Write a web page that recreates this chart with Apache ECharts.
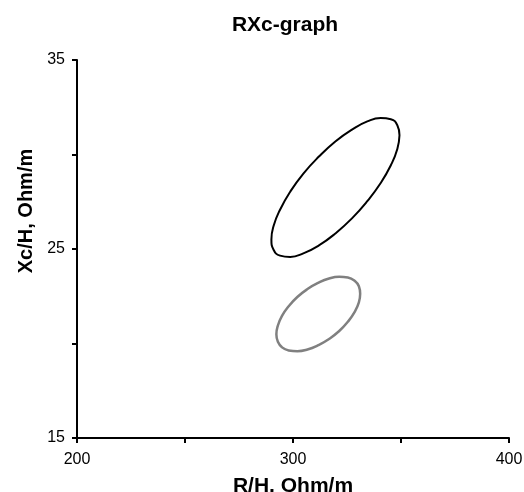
<!DOCTYPE html>
<html style="height: 100%">

<head>
  <meta charset="utf-8">
  <script type="text/javascript" src="https://cdn.jsdelivr.net/npm/echarts@6/dist/echarts.min.js"></script>
</head>

<body style="height: 100%; margin: 0; background: #fff">
  <div id="container" style="width: 524px; height: 492px"></div>
  <script type="text/javascript">
    // outer (black) ellipse, traced from its right end, over the top and round
    var blackR = [349.3, 348.3, 345.3, 340.6, 334.4, 327.3, 319.6, 312.0, 304.8, 298.7, 294.0, 291.0, 290.0,
                  291.0, 294.0, 298.7, 304.8, 312.0, 319.6, 327.3, 334.4, 340.6, 345.3, 348.3, 349.3];
    var blackX = [31.02, 31.55, 31.87, 31.93, 31.75, 31.32, 30.69, 29.89, 28.99, 28.03, 27.08, 26.22, 25.50,
                  24.96, 24.65, 24.58, 24.77, 25.19, 25.82, 26.62, 27.53, 28.49, 29.43, 30.29, 31.02];

    // inner (grey) ellipse
    var grayR = [331.1, 330.5, 328.5, 325.4, 321.4, 316.7, 311.7, 306.7, 302.0, 298.0, 294.9, 293.0, 292.3,
                 293.0, 294.9, 298.0, 302.0, 306.7, 311.7, 316.7, 321.4, 325.4, 328.5, 330.5, 331.1];
    var grayX = [22.63, 23.03, 23.32, 23.49, 23.53, 23.44, 23.21, 22.88, 22.46, 21.97, 21.46, 20.95, 20.49,
                 20.09, 19.80, 19.63, 19.59, 19.68, 19.91, 20.24, 20.66, 21.15, 21.66, 22.17, 22.63];

    var xLabels = [200, 300, 400];
    var yLabels = [15, 25, 35];

    function pairs(xs, ys) {
      return xs.map(function(x, i) { return [x, ys[i]]; });
    }

    var dom = document.getElementById("container");
    var myChart = echarts.init(dom);

    var font = 'Arial, "Liberation Sans", sans-serif';

    option = {
      animation: false,
      title: {
        text: 'RXc-graph',
        left: 280,
        top: 10,
        textAlign: 'center',
        textStyle: {
          fontFamily: font,
          fontSize: 21,
          fontWeight: 'bold',
          color: '#000'
        }
      },
      grid: {
        left: 77,
        right: 15,
        top: 60,
        bottom: 54,
        outerBoundsMode: 'none'
      },
      xAxis: {
        type: 'value',
        min: 200,
        max: 400,
        interval: 50,
        name: 'R/H, Ohm/m',
        nameLocation: 'middle',
        nameGap: 38,
        nameTextStyle: {
          fontFamily: font,
          fontSize: 21,
          fontWeight: 'bold',
          color: '#000'
        },
        splitLine: { show: false },
        axisLine: { lineStyle: { color: '#000', width: 2 } },
        axisTick: { length: 5, lineStyle: { color: '#000', width: 2 } },
        axisLabel: {
          margin: 14,
          fontFamily: font,
          fontSize: 16,
          color: '#000',
          formatter: function(v) { return xLabels.indexOf(v) >= 0 ? String(v) : ''; }
        }
      },
      yAxis: {
        type: 'value',
        min: 15,
        max: 35,
        interval: 5,
        splitLine: { show: false },
        axisLine: { lineStyle: { color: '#000', width: 2 } },
        axisTick: { length: 5, lineStyle: { color: '#000', width: 2 } },
        axisLabel: {
          margin: 12,
          fontFamily: font,
          fontSize: 16,
          color: '#000',
          formatter: function(v) { return yLabels.indexOf(v) >= 0 ? String(v) : ''; }
        }
      },
      graphic: [{
        type: 'text',
        x: 16,
        y: 211,
        rotation: Math.PI / 2,
        style: {
          text: 'Xc/H, Ohm/m',
          font: 'bold 20px ' + font,
          fill: '#000',
          align: 'center',
          verticalAlign: 'top'
        }
      }],
      series: [{
        type: 'line',
        data: pairs(blackR, blackX),
        smooth: true,
        showSymbol: false,
        lineStyle: { color: '#000', width: 2 }
      }, {
        type: 'line',
        data: pairs(grayR, grayX),
        smooth: true,
        showSymbol: false,
        lineStyle: { color: '#808080', width: 2.5 }
      }]
    };
    myChart.setOption(option);
  </script>
</body>

</html>
